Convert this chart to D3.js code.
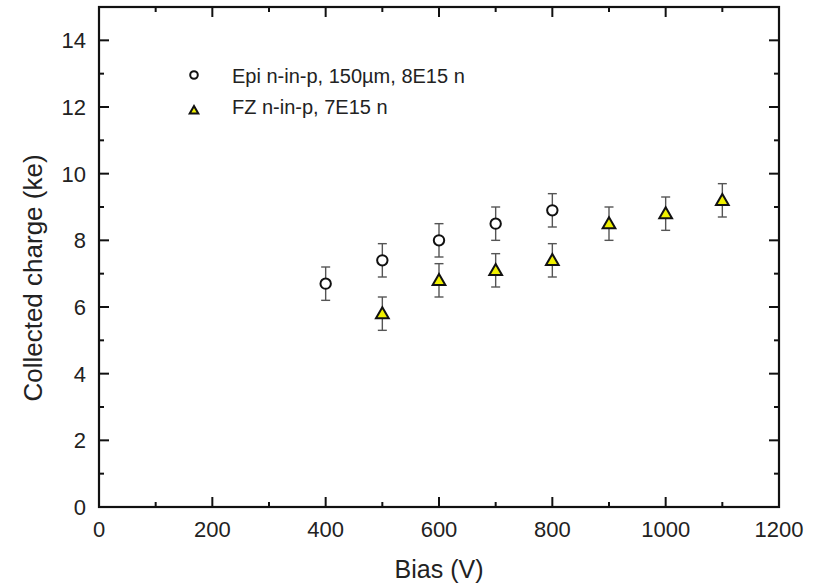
<!DOCTYPE html>
<html><head><meta charset="utf-8">
<script src="https://cdn.jsdelivr.net/npm/d3@7"></script>
<style>body{margin:0;background:#fff;} text{font-family:"Liberation Sans",Arial,sans-serif;fill:#222;}</style>
</head><body><svg id="c" width="814" height="586"></svg>
<script>
const epiBias = [400, 500, 600, 700, 800];
const epiCharge = [6.7, 7.4, 8.0, 8.5, 8.9];
const epiErr = [0.5, 0.5, 0.5, 0.5, 0.5];
const fzBias = [500, 600, 700, 800, 900, 1000, 1100];
const fzCharge = [5.8, 6.8, 7.1, 7.4, 8.5, 8.8, 9.2];
const fzErr = [0.5, 0.5, 0.5, 0.5, 0.5, 0.5, 0.5];
const xTicks = [0, 200, 400, 600, 800, 1000, 1200];
const yTicks = [0, 2, 4, 6, 8, 10, 12, 14];
const legendLabels = ["Epi n-in-p, 150µm, 8E15 n", "FZ n-in-p, 7E15 n"];

const svg = d3.select("#c");
const L = 99, R = 779, T = 7, B = 507;
const x = d3.scaleLinear().domain([0, 1200]).range([L, R]);
const y = d3.scaleLinear().domain([0, 15]).range([B, T]);

const xMinor = d3.range(100, 1200, 200);
const yMinor = d3.range(1, 15, 2);

function ticks(g, vals, len, side) {
  vals.forEach(v => {
    if (side === "bottom") g.append("line").attr("x1", x(v)).attr("x2", x(v)).attr("y1", B).attr("y2", B - len);
    if (side === "top") g.append("line").attr("x1", x(v)).attr("x2", x(v)).attr("y1", T).attr("y2", T + len);
    if (side === "left") g.append("line").attr("x1", L).attr("x2", L + len).attr("y1", y(v)).attr("y2", y(v));
    if (side === "right") g.append("line").attr("x1", R).attr("x2", R - len).attr("y1", y(v)).attr("y2", y(v));
  });
}
const tg = svg.append("g").attr("stroke", "#111").attr("stroke-width", 2);
ticks(tg, xTicks, 10, "bottom"); ticks(tg, xMinor, 5, "bottom");
ticks(tg, xTicks, 10, "top"); ticks(tg, xMinor, 5, "top");
ticks(tg, yTicks, 10, "left"); ticks(tg, yMinor, 5, "left");
ticks(tg, yTicks, 10, "right"); ticks(tg, yMinor, 5, "right");
svg.append("rect").attr("x", L).attr("y", T).attr("width", R - L).attr("height", B - T)
  .attr("fill", "none").attr("stroke", "#111").attr("stroke-width", 2.2);

svg.selectAll(".xl").data(xTicks).enter().append("text")
  .attr("x", d => x(d)).attr("y", B + 30).attr("text-anchor", "middle").attr("font-size", 22).text(d => d);
svg.selectAll(".yl").data(yTicks).enter().append("text")
  .attr("x", L - 13).attr("y", d => y(d) + 8).attr("text-anchor", "end").attr("font-size", 22).text(d => d);

svg.append("text").attr("x", (L + R) / 2).attr("y", 578).attr("text-anchor", "middle").attr("font-size", 25).text("Bias (V)");
svg.append("text").attr("transform", `translate(42,278) rotate(-90)`).attr("text-anchor", "middle").attr("font-size", 26).text("Collected charge (ke)");

function errBars(xs, ys, es) {
  const g = svg.append("g").attr("stroke", "#555").attr("stroke-width", 1.4);
  xs.forEach((xv, i) => {
    const cx = x(xv), y1 = y(ys[i] - es[i]), y2 = y(ys[i] + es[i]);
    g.append("line").attr("x1", cx).attr("x2", cx).attr("y1", y1).attr("y2", y2);
    g.append("line").attr("x1", cx - 4.5).attr("x2", cx + 4.5).attr("y1", y1).attr("y2", y1);
    g.append("line").attr("x1", cx - 4.5).attr("x2", cx + 4.5).attr("y1", y2).attr("y2", y2);
  });
}
errBars(epiBias, epiCharge, epiErr);
errBars(fzBias, fzCharge, fzErr);

const tri = d3.symbol().type(d3.symbolTriangle).size(70);
svg.selectAll(".epi").data(epiBias).enter().append("circle")
  .attr("cx", d => x(d)).attr("cy", (d, i) => y(epiCharge[i])).attr("r", 5.2)
  .attr("fill", "#fff").attr("stroke", "#111").attr("stroke-width", 2);
svg.selectAll(".fz").data(fzBias).enter().append("path")
  .attr("d", tri).attr("transform", (d, i) => `translate(${x(d)},${y(fzCharge[i]) + 1})`)
  .attr("fill", "#f0f000").attr("stroke", "#111").attr("stroke-width", 2);

svg.append("circle").attr("cx", 194).attr("cy", 75).attr("r", 3.8).attr("fill", "#fff").attr("stroke", "#111").attr("stroke-width", 2);
svg.append("path").attr("d", d3.symbol().type(d3.symbolTriangle).size(32)).attr("transform", "translate(194,111)")
  .attr("fill", "#f0f000").attr("stroke", "#111").attr("stroke-width", 2);
svg.append("text").attr("x", 232).attr("y", 83).attr("font-size", 20).text(legendLabels[0]);
svg.append("text").attr("x", 232).attr("y", 114).attr("font-size", 20).text(legendLabels[1]);
</script></body></html>
